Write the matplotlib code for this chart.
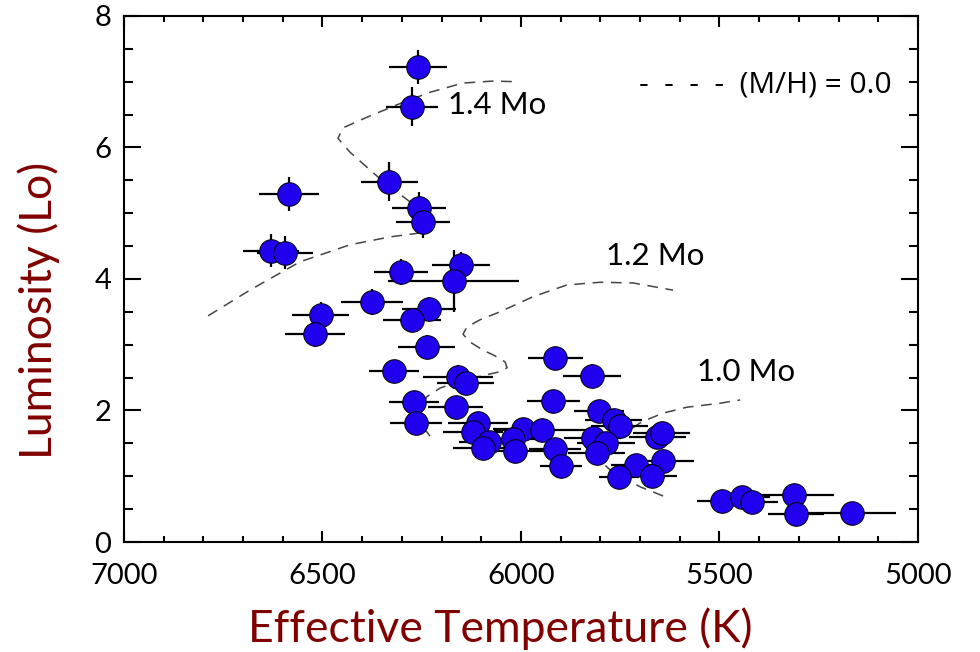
import matplotlib
matplotlib.use("Agg")
import matplotlib.pyplot as plt
import numpy as np

# ---- star data (Teff [K], luminosity [Lsun]) ----
teff = [6259, 6275, 6584, 6332, 6257, 6247, 6630, 6594, 6151, 6169,
        6302, 6375, 6504, 6519, 6232, 6275, 6237, 6320, 6159, 6139,
        6270, 6164, 6264, 6108, 6121, 6081, 6096, 5995, 6020, 6015,
        5947, 5914, 5821, 5919, 5803, 5766, 5751, 5819, 5786, 5809,
        5914, 5899, 5657, 5645, 5710, 5642, 5753, 5670, 5494, 5443,
        5418, 5312, 5307, 5166]
lum = [7.22, 6.62, 5.29, 5.48, 5.08, 4.87, 4.43, 4.40, 4.21, 3.97,
       4.11, 3.65, 3.45, 3.16, 3.54, 3.38, 2.97, 2.60, 2.51, 2.42,
       2.13, 2.05, 1.81, 1.81, 1.67, 1.52, 1.43, 1.72, 1.57, 1.38,
       1.70, 2.80, 2.52, 2.14, 1.99, 1.86, 1.76, 1.58, 1.51, 1.35,
       1.41, 1.16, 1.60, 1.66, 1.17, 1.23, 0.99, 1.00, 0.62, 0.68,
       0.61, 0.71, 0.43, 0.44]
teff_err = [73, 65, 75, 72, 69, 67, 70, 70, 72, 165,
            68, 78, 72, 76, 68, 73, 72, 64, 88, 72,
            63, 69, 65, 75, 75, 75, 75, 75, 75, 75,
            120, 69, 73, 67, 63, 72, 72, 72, 72, 72,
            65, 53, 72, 72, 63, 78, 50, 62, 63, 70,
            65, 100, 70, 110]
lum_err = [0.26, 0.30, 0.26, 0.30, 0.25, 0.25, 0.25, 0.25, 0.20, 0.47,
           0.20, 0.20, 0.20, 0.20, 0.18, 0.18, 0.18, 0.15, 0.18, 0.15,
           0.15, 0.15, 0.15, 0.12, 0.12, 0.12, 0.12, 0.12, 0.12, 0.12,
           0.12, 0.15, 0.18, 0.12, 0.12, 0.12, 0.12, 0.12, 0.12, 0.12,
           0.12, 0.10, 0.10, 0.10, 0.10, 0.10, 0.10, 0.10, 0.08, 0.08,
           0.08, 0.08, 0.08, 0.08]

# ---- evolutionary tracks ----
track14_t = [6788, 6683, 6557, 6431, 6330, 6242, 6229, 6254, 6292, 6343,
             6388, 6431, 6461, 6448, 6388, 6312, 6229, 6146, 6071, 6010]
track14_l = [3.44, 3.83, 4.26, 4.52, 4.64, 4.71, 4.87, 5.06, 5.23, 5.46,
             5.70, 5.93, 6.14, 6.30, 6.46, 6.65, 6.84, 6.98, 7.01, 7.00]
track12_t = [6229, 6252, 6254, 6237, 6204, 6154, 6103, 6053, 6035, 6040,
             6065, 6096, 6128, 6146, 6136, 6103, 6053, 5970, 5884, 5801,
             5718, 5617]
track12_l = [1.61, 1.79, 2.01, 2.21, 2.34, 2.45, 2.52, 2.59, 2.65, 2.74,
             2.83, 2.92, 3.04, 3.16, 3.27, 3.38, 3.50, 3.73, 3.91, 3.95,
             3.94, 3.83]
track10_t = [5642, 5700, 5776, 5809, 5811, 5793, 5763, 5730, 5695, 5642,
             5582, 5499, 5448]
track10_l = [0.70, 0.84, 1.10, 1.28, 1.42, 1.52, 1.61, 1.69, 1.83, 1.96,
             2.05, 2.11, 2.16]

track_labels = ["1.4 Mo", "1.2 Mo", "1.0 Mo"]
label_t = [6184, 5786, 5557]
label_l = [6.65, 4.35, 2.59]

xticks = [7000, 6500, 6000, 5500, 5000]
yticks = [0, 2, 4, 6, 8]

label_color = "#800000"
fam = ["Lato", "DejaVu Sans"]

fig = plt.figure(figsize=(9.8, 6.52), dpi=100)
ax = fig.add_axes([0.1265, 0.1687, 0.8102, 0.8068])

for tt, ll in [(track14_t, track14_l), (track12_t, track12_l), (track10_t, track10_l)]:
    ax.plot(tt, ll, linestyle=(0, (7, 5)), color="#444444", lw=1.1, zorder=1)

ax.errorbar(teff, lum, xerr=teff_err, yerr=lum_err, fmt="none",
            ecolor="black", elinewidth=1.6, capsize=0, zorder=2)
ax.plot(teff, lum, "o", ms=17, mfc="#2000ee", mec="black", mew=0.7,
        linestyle="none", zorder=3)

for txt, tx, ly in zip(track_labels, label_t, label_l):
    ax.text(tx, ly, txt, fontsize=22.5, family=fam, ha="left", va="center",
            color="black", zorder=4)

ax.text(0.967, 0.869, "-  -  -  -  (M/H) = 0.0", transform=ax.transAxes,
        fontsize=21.5, family=["Open Sans", "DejaVu Sans"], ha="right",
        va="center", color="black")

ax.set_xlim(7000, 5000)
ax.set_ylim(0, 8)
ax.set_xticks(xticks)
ax.set_yticks(yticks)
ax.set_xticks(np.arange(5000, 7001, 100), minor=True)
ax.set_yticks(np.arange(0, 8.01, 0.5), minor=True)
ax.tick_params(axis="both", which="both", direction="in", top=True, right=True,
               width=1.5, colors="black")
ax.tick_params(axis="x", which="major", length=8, pad=15, labelsize=21)
ax.tick_params(axis="x", which="minor", length=4.5)
ax.tick_params(axis="y", which="major", length=12, pad=9, labelsize=21)
ax.tick_params(axis="y", which="minor", length=6.5)
for lab in ax.get_xticklabels() + ax.get_yticklabels():
    lab.set_family(fam)
for sp in ax.spines.values():
    sp.set_linewidth(1.5)

ax.set_xlabel("Effective Temperature (K)", fontsize=32, family=fam, color=label_color)
ax.set_ylabel("Luminosity (Lo)", fontsize=32, family=fam, color=label_color)
ax.xaxis.set_label_coords(0.474, -0.125)
ax.yaxis.set_label_coords(-0.08, 0.44)

fig.savefig("out.png", dpi=100)
